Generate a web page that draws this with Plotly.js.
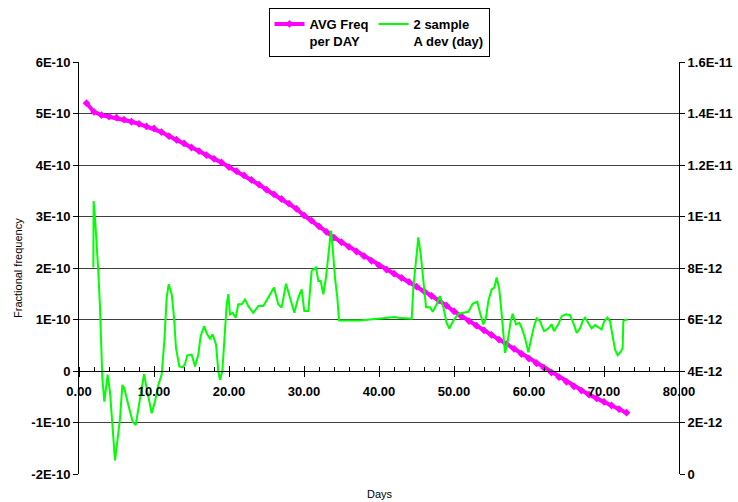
<!DOCTYPE html>
<html>
<head>
<meta charset="utf-8">
<script src="https://cdn.plot.ly/plotly-3.0.1.min.js"></script>
<style>
  html, body { margin: 0; padding: 0; background: #fff; }
  #chart { width: 738px; height: 502px; }
</style>
</head>
<body>
<div id="chart"></div>
<script>
// ---- Data ----
// AVG Freq per DAY (left axis, units of 1E-10)
const avgDays = [1,2,3,4,5,6,7,8,9,10,11,12,13,14,15,16,17,18,19,20,21,22,23,24,25,26,27,28,29,30,31,32,33,34,35,36,37,38,39,40,41,42,43,44,45,46,47,48,49,50,51,52,53,54,55,56,57,58,59,60,61,62,63,64,65,66,67,68,69,70,71,72,73];
const avgFreq = [5.20,5.03,4.97,4.94,4.92,4.88,4.84,4.80,4.75,4.71,4.64,4.56,4.49,4.42,4.34,4.27,4.19,4.12,4.05,3.96,3.88,3.80,3.71,3.62,3.52,3.43,3.34,3.25,3.15,3.02,2.92,2.81,2.70,2.59,2.50,2.41,2.32,2.23,2.14,2.05,1.97,1.89,1.81,1.73,1.64,1.55,1.46,1.37,1.27,1.16,1.06,0.97,0.88,0.79,0.70,0.61,0.52,0.43,0.33,0.24,0.15,0.06,-0.03,-0.12,-0.21,-0.30,-0.38,-0.46,-0.53,-0.60,-0.67,-0.74,-0.81];

// 2 sample A dev (day) (right axis, units of 1E-12)
const adevDays = [1.91,1.95,2.13,2.36,2.57,2.8,2.93,3.11,3.38,3.56,
  3.82,4.13,4.49,4.8,5.1,5.47,5.78,6.04,6.58,7.16,
  7.56,8.04,8.67,9.11,9.69,10.13,10.58,11.02,11.38,11.69,
  11.96,12.36,12.67,12.93,13.38,13.82,14.13,14.44,15.02,15.47,
  15.91,16.22,16.67,17.11,17.47,17.82,18.27,18.58,18.8,19.11,
  19.47,19.69,19.91,20.13,20.49,20.89,21.24,21.69,22.13,22.58,
  23.24,23.91,24.58,25.24,26.0,26.57,27.02,27.6,28.13,28.71,
  29.24,29.69,30.04,30.58,30.8,31.02,31.6,31.91,32.22,32.58,
  32.93,33.24,33.6,33.82,34.13,34.44,34.67,37.47,39.47,42.13,
  42.58,44.36,44.58,44.93,45.24,45.56,45.91,46.27,46.8,47.16,
  47.69,48.13,48.58,49.02,49.38,49.91,50.58,51.24,51.91,52.49,
  53.1,53.47,53.91,54.27,54.58,55.02,55.38,55.69,56.04,56.36,
  56.58,56.8,57.1,57.56,57.82,58.27,58.71,59.02,59.47,59.91,
  60.27,60.67,61.02,61.47,62.0,62.58,63.02,63.33,63.91,64.36,
  64.93,65.47,65.91,66.36,66.8,67.16,67.47,67.91,68.36,68.8,
  69.24,69.69,70.0,70.44,70.8,71.16,71.47,71.82,72.22,72.49,
  72.58,72.8,73.16];
const adevVals = [8.02,10.6,9.97,9.06,7.89,6.46,4.9,3.72,2.81,3.2,
  3.86,3.2,1.90,0.53,1.25,2.16,3.46,3.33,2.68,2.03,
  1.90,2.81,3.88,3.2,2.36,2.81,3.46,3.86,5.16,6.85,
  7.37,6.98,6.07,4.90,4.18,4.14,4.27,4.61,4.64,4.18,
  4.64,5.35,5.74,5.42,5.26,5.42,5.03,3.98,3.66,3.98,
  5.81,6.59,6.98,6.20,6.26,6.07,6.59,6.59,6.78,6.52,
  6.26,6.52,6.52,6.85,7.24,6.59,6.46,7.39,6.85,6.26,
  6.85,7.17,6.33,6.33,7.11,7.89,8.02,7.5,7.5,6.98,
  7.63,8.54,9.45,8.8,7.63,6.85,5.96,5.96,6.03,6.10,
  6.07,6.03,7.24,8.41,9.19,8.54,7.63,6.48,6.48,6.3,
  6.59,6.91,6.48,5.87,5.65,5.96,6.22,6.26,6.30,6.61,
  6.69,6.26,5.81,6.07,6.72,7.17,7.24,7.63,7.17,6.2,
  5.28,4.7,5.03,5.94,6.22,5.81,5.87,5.68,5.28,4.73,
  5.22,5.74,6.04,5.94,5.55,5.65,5.81,5.55,5.81,6.13,
  6.2,6.17,5.87,5.48,5.65,5.94,6.07,5.87,5.65,5.78,
  5.70,5.61,5.91,6.07,5.94,5.42,4.83,4.61,4.74,4.9,
  5.94,5.98,6.0];

const LEFT_UNIT = 1e-10;
const RIGHT_UNIT = 1e-12;

// Tick labels
const leftTickVals = [-2e-10,-1e-10,0,1e-10,2e-10,3e-10,4e-10,5e-10,6e-10];
const leftTickText = ["-2E-10","-1E-10","0","1E-10","2E-10","3E-10","4E-10","5E-10","6E-10"];
const rightTickVals = [0,2e-12,4e-12,6e-12,8e-12,1e-11,1.2e-11,1.4e-11,1.6e-11];
const rightTickText = ["0","2E-12","4E-12","6E-12","8E-12","1E-11","1.2E-11","1.4E-11","1.6E-11"];
const xTickVals = [0,10,20,30,40,50,60,70,80];
const xTickText = ["0.00","10.00","20.00","30.00","40.00","50.00","60.00","70.00","80.00"];

const FONT = "Liberation Sans, Arial, sans-serif";
const tickFont = {family: FONT, size: 13, color: "#000", weight: "bold"};

// Geometry (paper = full figure height, since top/bottom margins are 0)
const H = 502;
const yDomain = [28 / H, (H - 62) / H];
const xAxisPos = (H - 371) / H;   // where the y=0 line sits

const traces = [
  {
    x: avgDays,
    y: avgFreq.map(v => v * LEFT_UNIT),
    name: "AVG Freq<br>per DAY",
    type: "scatter",
    mode: "lines+markers",
    line: {color: "#ff00ff", width: 4},
    marker: {symbol: "diamond", size: 6, color: "#ff00ff"},
    xaxis: "x",
    yaxis: "y"
  },
  {
    x: adevDays,
    y: adevVals.map(v => v * RIGHT_UNIT),
    name: "2 sample<br>A dev (day)",
    type: "scatter",
    mode: "lines",
    line: {color: "#00ff00", width: 2},
    xaxis: "x",
    yaxis: "y2"
  },
  // invisible trace to anchor second x-axis (crossing ticks)
  {
    x: [0, 80], y: [0, 0], xaxis: "x2", yaxis: "y",
    mode: "none", showlegend: false, hoverinfo: "skip"
  }
];

const layout = {
  width: 738,
  height: H,
  margin: {l: 79, r: 59, t: 0, b: 0, pad: 0},
  paper_bgcolor: "#fff",
  plot_bgcolor: "rgba(0,0,0,0)",
  showlegend: true,
  legend: {
    orientation: "h",
    x: 0.5, xanchor: "center",
    y: (H - 8) / H, yanchor: "top",
    bordercolor: "#000", borderwidth: 1,
    bgcolor: "#fff",
    valign: "top",
    font: {family: FONT, size: 13, color: "#000", weight: "bold"},
    itemwidth: 30,
    tracegroupgap: 0
  },
  xaxis: {
    range: [0, 80],
    anchor: "free",
    position: xAxisPos,
    tickvals: xTickVals,
    ticktext: xTickText,
    ticks: "outside",
    ticklen: 5,
    tickcolor: "#000",
    tickwidth: 1,
    showline: true,
    linecolor: "#000",
    linewidth: 1,
    showgrid: false,
    zeroline: false,
    tickfont: tickFont,
    ticklabelstandoff: 3,
    minor: {dtick: 2, ticks: "inside", ticklen: 4, tickcolor: "#000", showgrid: false}
  },
  xaxis2: {
    range: [0, 80],
    overlaying: "x",
    anchor: "free",
    position: xAxisPos,
    tickvals: xTickVals,
    ticks: "inside",
    ticklen: 5,
    tickcolor: "#000",
    showticklabels: false,
    showline: false,
    showgrid: false,
    zeroline: false
  },
  yaxis: {
    domain: yDomain,
    range: [-2e-10, 6e-10],
    tickvals: leftTickVals,
    ticktext: leftTickText,
    ticks: "outside",
    ticklen: 5,
    tickcolor: "#000",
    showline: true,
    linecolor: "#000",
    showgrid: true,
    gridcolor: "#404040",
    gridwidth: 1,
    zeroline: false,
    tickfont: tickFont
  },
  yaxis2: {
    domain: yDomain,
    range: [0, 1.6e-11],
    overlaying: "y",
    side: "right",
    tickvals: rightTickVals,
    ticktext: rightTickText,
    ticks: "outside",
    ticklen: 5,
    tickcolor: "#000",
    showline: true,
    linecolor: "#000",
    showgrid: false,
    zeroline: false,
    tickfont: tickFont
  },
  annotations: [
    {
      text: "Fractional frequency",
      xref: "paper", yref: "paper",
      x: -0.1017, y: (H - 268) / H,
      xanchor: "center", yanchor: "middle",
      textangle: -90,
      showarrow: false,
      font: {family: FONT, size: 11, color: "#000"}
    },
    {
      text: "Days",
      xref: "paper", yref: "paper",
      x: 0.5017, y: (H - 494) / H,
      xanchor: "center", yanchor: "middle",
      showarrow: false,
      font: {family: FONT, size: 11, color: "#000"}
    }
  ]
};

Plotly.newPlot("chart", traces, layout, {displayModeBar: false, staticPlot: true});
</script>
</body>
</html>
